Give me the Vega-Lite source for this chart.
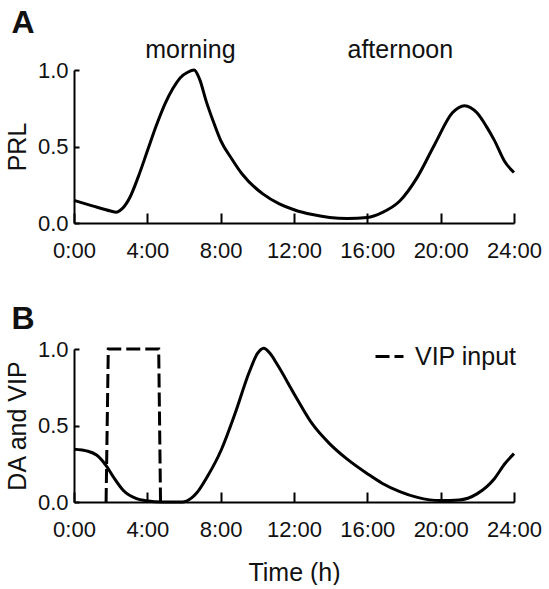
{
  "$schema": "https://vega.github.io/schema/vega-lite/v6.json",
  "padding": {"left": 5, "top": 7, "right": 5, "bottom": 0},
  "background": "white",
  "datasets": {
    "prl": [
      {"t": 0, "v": 0.148}, {"t": 1.0, "v": 0.112}, {"t": 2.0, "v": 0.078}, {"t": 2.3, "v": 0.07},
      {"t": 2.6, "v": 0.09}, {"t": 3.06, "v": 0.17}, {"t": 3.5, "v": 0.3}, {"t": 4.0, "v": 0.47},
      {"t": 4.5, "v": 0.64}, {"t": 4.97, "v": 0.78}, {"t": 5.4, "v": 0.88}, {"t": 5.8, "v": 0.95},
      {"t": 6.2, "v": 0.985}, {"t": 6.55, "v": 1.0}, {"t": 6.85, "v": 0.94}, {"t": 7.2, "v": 0.8},
      {"t": 7.64, "v": 0.65}, {"t": 8.0, "v": 0.54}, {"t": 8.6, "v": 0.42}, {"t": 9.17, "v": 0.32},
      {"t": 10.3, "v": 0.19}, {"t": 11.2, "v": 0.125}, {"t": 12.04, "v": 0.085}, {"t": 13.0, "v": 0.055},
      {"t": 13.95, "v": 0.036}, {"t": 14.9, "v": 0.03}, {"t": 16.0, "v": 0.036}, {"t": 16.8, "v": 0.068},
      {"t": 17.77, "v": 0.144}, {"t": 18.73, "v": 0.3}, {"t": 19.68, "v": 0.515}, {"t": 20.64, "v": 0.72},
      {"t": 21.3, "v": 0.767}, {"t": 21.98, "v": 0.72}, {"t": 22.5, "v": 0.63}, {"t": 22.93, "v": 0.54},
      {"t": 23.5, "v": 0.4}, {"t": 24, "v": 0.33}
    ],
    "labelsA": [
      {"label": "morning", "t": 6.35, "v": 1.078},
      {"label": "afternoon", "t": 17.8, "v": 1.078}
    ],
    "da": [
      {"t": 0, "v": 0.345}, {"t": 0.76, "v": 0.332}, {"t": 1.23, "v": 0.307}, {"t": 1.77, "v": 0.235},
      {"t": 2.14, "v": 0.165}, {"t": 2.68, "v": 0.077}, {"t": 3.41, "v": 0.022}, {"t": 3.95, "v": 0.008},
      {"t": 4.8, "v": 0.0}, {"t": 5.9, "v": 0.0}, {"t": 6.4, "v": 0.025}, {"t": 6.7, "v": 0.06},
      {"t": 7.26, "v": 0.163}, {"t": 8.03, "v": 0.34}, {"t": 8.79, "v": 0.58}, {"t": 9.55, "v": 0.846},
      {"t": 10.0, "v": 0.97}, {"t": 10.35, "v": 1.005}, {"t": 10.7, "v": 0.97}, {"t": 11.08, "v": 0.9},
      {"t": 12.04, "v": 0.7}, {"t": 13.0, "v": 0.51}, {"t": 13.95, "v": 0.38}, {"t": 14.9, "v": 0.28},
      {"t": 16.0, "v": 0.185}, {"t": 16.8, "v": 0.123}, {"t": 17.77, "v": 0.068}, {"t": 18.73, "v": 0.03},
      {"t": 20.0, "v": 0.009}, {"t": 21.0, "v": 0.013}, {"t": 21.98, "v": 0.053}, {"t": 22.93, "v": 0.152},
      {"t": 23.5, "v": 0.25}, {"t": 24, "v": 0.316}
    ],
    "vip": [
      {"t": 1.75, "v": 0, "s": "VIP input"}, {"t": 1.87, "v": 1, "s": "VIP input"},
      {"t": 4.62, "v": 1, "s": "VIP input"}, {"t": 4.72, "v": 0, "s": "VIP input"}
    ]
  },
  "vconcat": [
    {
      "title": {"text": "A", "dy": 4},
      "width": 440,
      "height": 153,
      "layer": [
        {
          "data": {"name": "prl"},
          "mark": {"type": "line", "interpolate": "monotone", "color": "black", "strokeWidth": 3},
          "encoding": {
            "x": {"field": "t", "type": "quantitative", "scale": {"domain": [0, 24], "nice": false},
              "axis": {"title": null, "values": [0, 4, 8, 12, 16, 20, 24], "labelExpr": "datum.value + ':00'", "tickSize": -10, "labelPadding": 27, "labelOverlap": false, "labelFlush": false, "labelFontSize": 22}},
            "y": {"field": "v", "type": "quantitative", "scale": {"domain": [0, 1], "nice": false},
              "axis": {"title": "PRL", "values": [0, 0.5, 1], "format": ".1f", "tickSize": -5, "labelPadding": 11, "titlePadding": 7, "labelOverlap": false, "labelFlush": false, "labelFontSize": 22, "titleFontSize": 25}}
          }
        },
        {
          "data": {"name": "labelsA"},
          "mark": {"type": "text", "fontSize": 25, "baseline": "alphabetic", "align": "center", "color": "#111"},
          "encoding": {
            "x": {"field": "t", "type": "quantitative"},
            "y": {"field": "v", "type": "quantitative"},
            "text": {"field": "label"}
          }
        }
      ]
    },
    {
      "title": {"text": "B"},
      "width": 440,
      "height": 153,
      "layer": [
        {
          "data": {"name": "da"},
          "mark": {"type": "line", "interpolate": "monotone", "color": "black", "strokeWidth": 3},
          "encoding": {
            "x": {"field": "t", "type": "quantitative", "scale": {"domain": [0, 24], "nice": false},
              "axis": {"title": "Time (h)", "values": [0, 4, 8, 12, 16, 20, 24], "labelExpr": "datum.value + ':00'", "tickSize": -10, "labelPadding": 27, "titlePadding": 20, "labelOverlap": false, "labelFlush": false, "labelFontSize": 22, "titleFontSize": 25}},
            "y": {"field": "v", "type": "quantitative", "scale": {"domain": [0, 1], "nice": false},
              "axis": {"title": "DA and VIP", "values": [0, 0.5, 1], "format": ".1f", "tickSize": -5, "labelPadding": 11, "titlePadding": 7, "labelOverlap": false, "labelFlush": false, "labelFontSize": 22, "titleFontSize": 25}}
          }
        },
        {
          "data": {"name": "vip"},
          "mark": {"type": "line", "color": "black", "strokeWidth": 3},
          "encoding": {
            "x": {"field": "t", "type": "quantitative"},
            "y": {"field": "v", "type": "quantitative"},
            "strokeDash": {"field": "s", "type": "nominal", "scale": {"range": [[14, 5]]},
              "legend": {"title": null, "orient": "none", "legendX": 300, "legendY": -8, "padding": 0,
                "labelFontSize": 25, "labelFont": "Liberation Sans", "labelColor": "#111", "labelOffset": 10,
                "symbolType": "stroke", "symbolSize": 784, "symbolStrokeWidth": 3, "symbolStrokeColor": "black"}}
          }
        }
      ]
    }
  ],
  "resolve": {"legend": {"strokeDash": "independent"}, "scale": {"strokeDash": "independent"}},
  "spacing": 42,
  "config": {
    "view": {"stroke": null},
    "font": "Liberation Sans",
    "axis": {
      "grid": false,
      "domainColor": "black", "domainWidth": 2,
      "tickColor": "black", "tickWidth": 2,
      "labelColor": "#111", "labelFontSize": 22, "labelFont": "Liberation Sans",
      "titleColor": "#111", "titleFontSize": 25, "titleFontWeight": "normal", "titleFont": "Liberation Sans"
    },
    "title": {"anchor": "start", "frame": "bounds", "fontSize": 32, "fontWeight": "bold", "font": "Liberation Sans", "color": "#111", "offset": 2, "dx": 6}
  }
}
